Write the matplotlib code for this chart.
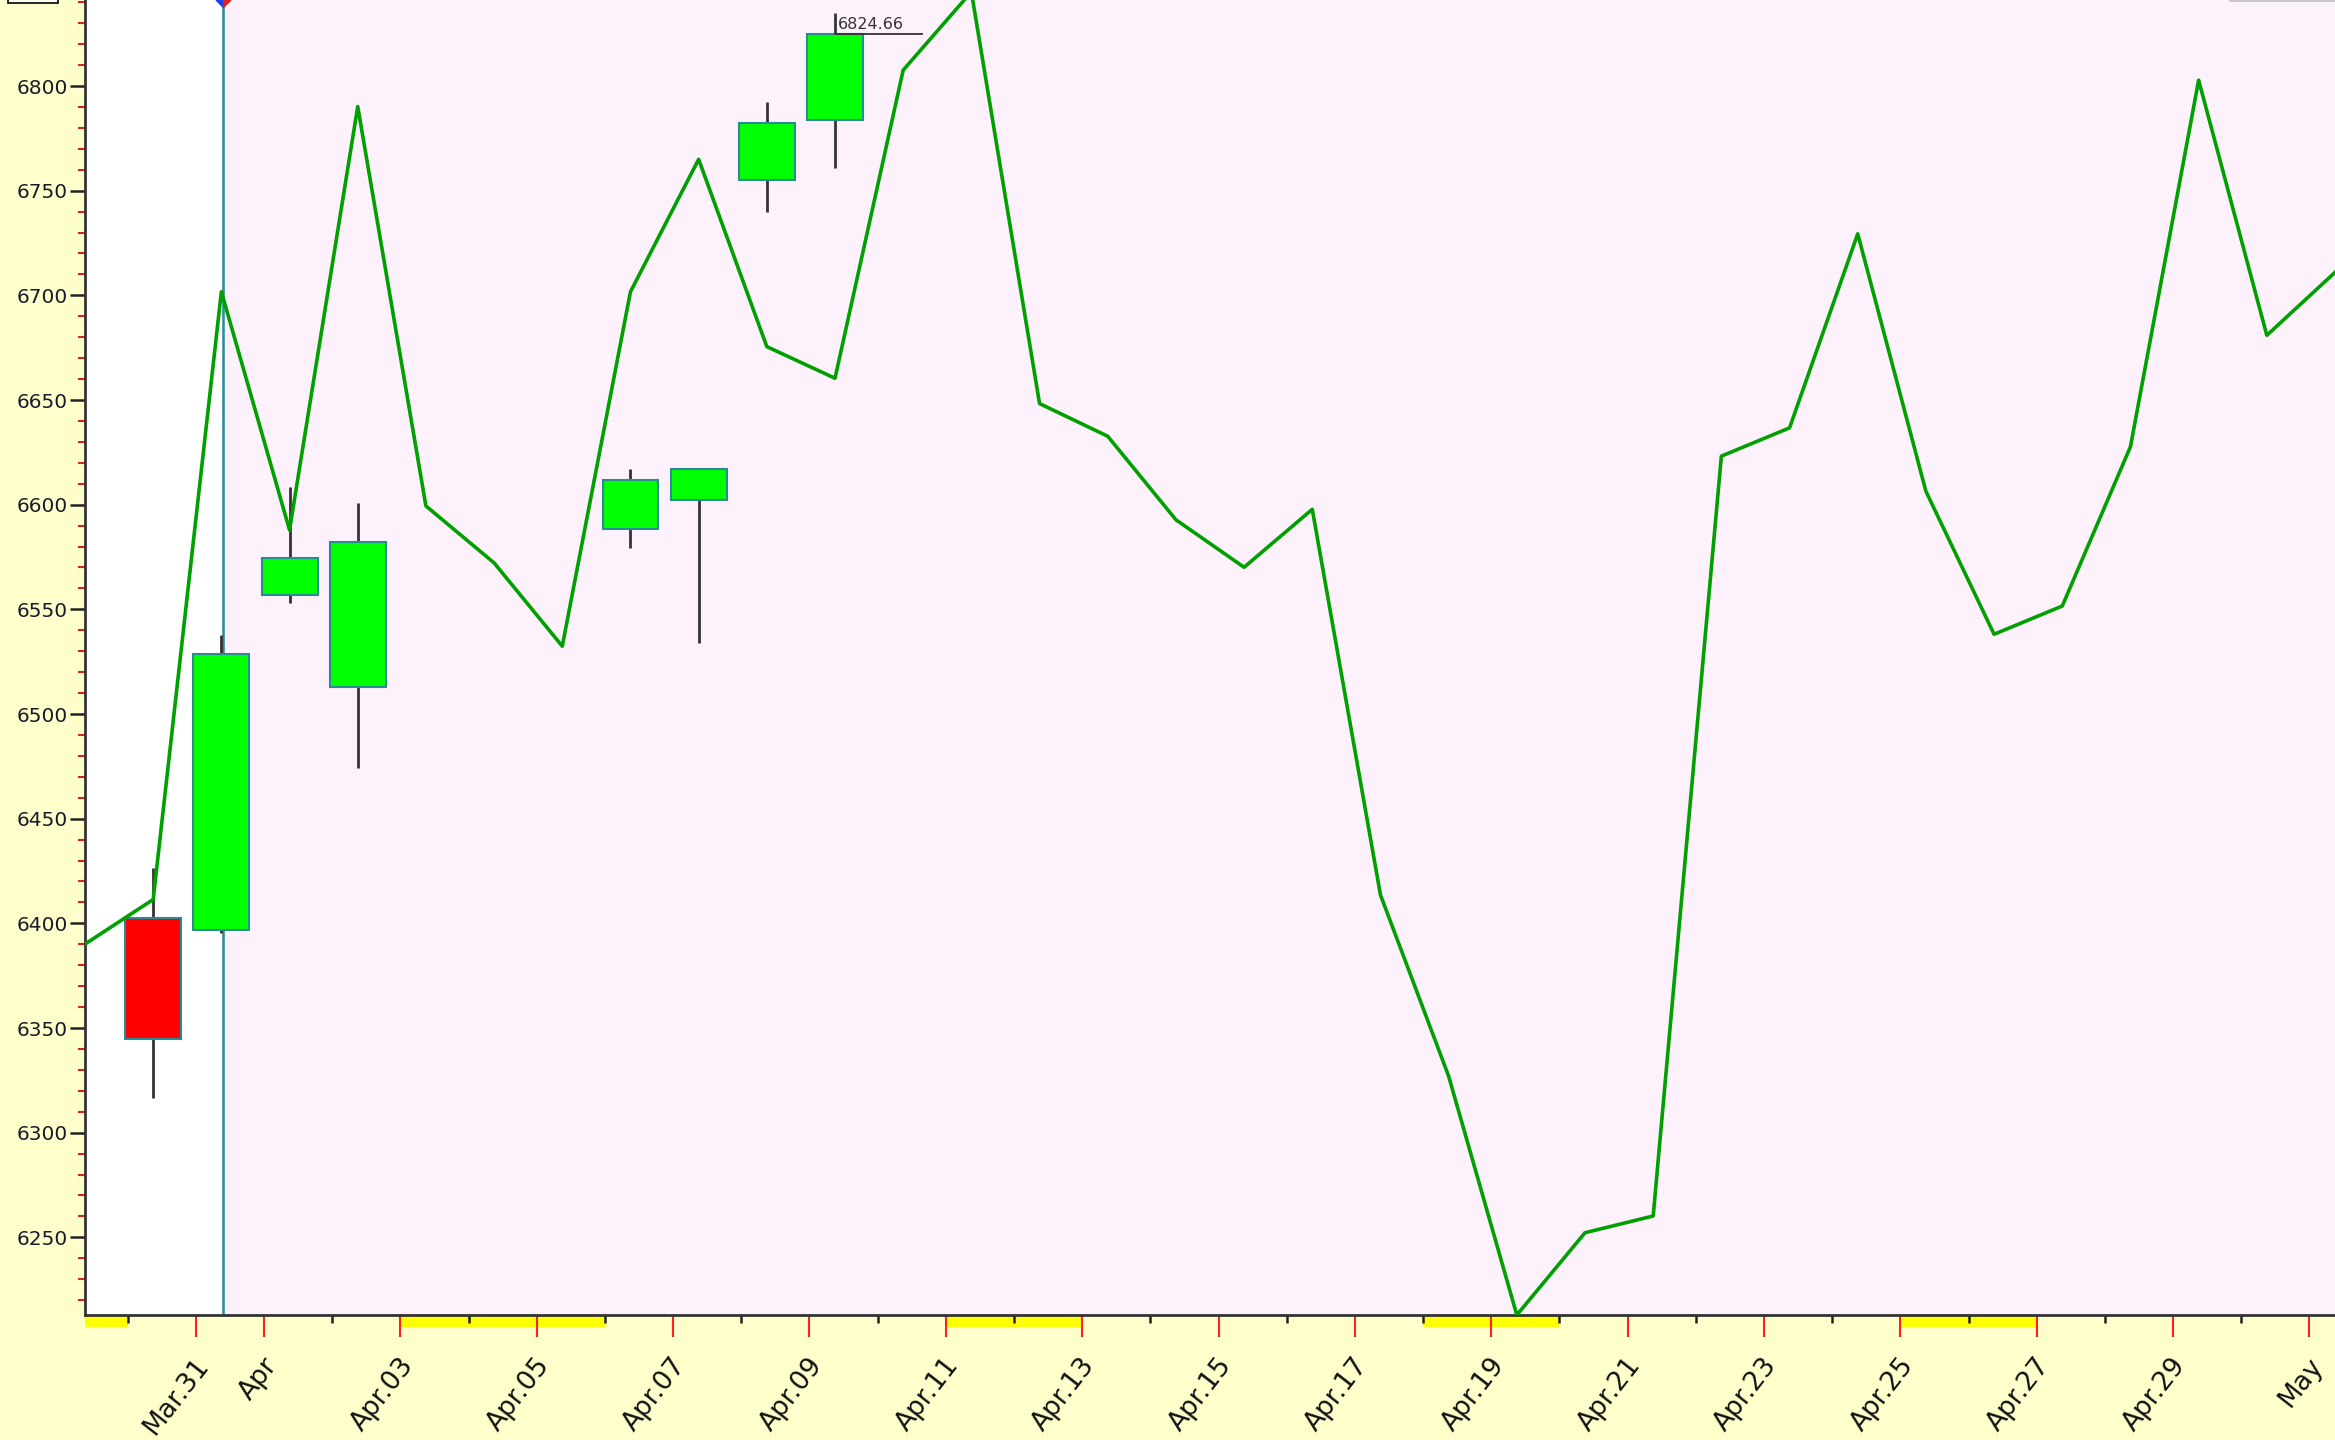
import numpy as np
import pandas as pd
import matplotlib
matplotlib.use("Agg")
import matplotlib.pyplot as plt
import matplotlib.dates as mdates
import matplotlib.transforms as mtransforms
from matplotlib.patches import Rectangle
from matplotlib.lines import Line2D

plt.rcParams['font.family'] = ['DejaVu Sans']

# Forecast line, one point per day at 09:00
line_start = "2026-03-29 09:00"
line_vals = [6390.1, 6411.4, 6701.7, 6587.9, 6790.2, 6599.4, 6572.2, 6532.4,
             6701.7, 6765.0, 6675.5, 6660.4, 6807.6, 6845.0, 6648.3, 6632.7,
             6592.8, 6570.1, 6597.8, 6413.6, 6327.0, 6212.9, 6252.2, 6260.2,
             6623.2, 6636.7, 6729.4, 6606.4, 6538.1, 6551.6, 6627.7, 6802.8,
             6680.9, 6711.0]

# Daily candles
candle_days = ["2026-03-30", "2026-03-31", "2026-04-01", "2026-04-02",
               "2026-04-06", "2026-04-07", "2026-04-08", "2026-04-09"]
candle_open = [6402.6, 6396.7, 6556.8, 6513.0, 6588.2, 6602.2, 6755.1, 6784.0]
candle_close = [6344.6, 6528.5, 6574.7, 6582.3, 6611.8, 6616.9, 6782.2, 6824.66]
candle_high = [6426.3, 6537.7, 6608.6, 6600.9, 6617.0, 6617.5, 6792.5, 6834.7]
candle_low = [6316.5, 6395.5, 6553.2, 6474.0, 6579.4, 6534.1, 6740.0, 6761.0]

# Non-trading days (yellow marks under the axis)
off_days = ["2026-03-29", "2026-04-03", "2026-04-04", "2026-04-05",
            "2026-04-11", "2026-04-12", "2026-04-18", "2026-04-19",
            "2026-04-25", "2026-04-26"]

# X tick labels (odd days) and unlabeled ticks
label_days = ["2026-03-31", "2026-04-01", "2026-04-03", "2026-04-05", "2026-04-07",
              "2026-04-09", "2026-04-11", "2026-04-13", "2026-04-15", "2026-04-17",
              "2026-04-19", "2026-04-21", "2026-04-23", "2026-04-25", "2026-04-27",
              "2026-04-29", "2026-05-01"]
label_text = ["Mar.31", "Apr", "Apr.03", "Apr.05", "Apr.07", "Apr.09", "Apr.11",
              "Apr.13", "Apr.15", "Apr.17", "Apr.19", "Apr.21", "Apr.23", "Apr.25",
              "Apr.27", "Apr.29", "May"]
plain_days = ["2026-03-30", "2026-04-02", "2026-04-04", "2026-04-06", "2026-04-08",
              "2026-04-10", "2026-04-12", "2026-04-14", "2026-04-16", "2026-04-18",
              "2026-04-20", "2026-04-22", "2026-04-24", "2026-04-26", "2026-04-28",
              "2026-04-30"]

now_time = "2026-03-31 09:45"
last_close_label = "6824.66"

W, H = 2335, 1440
fig = plt.figure(figsize=(W / 100, H / 100), dpi=100, facecolor="#FFFFCC")
ax = fig.add_axes([85 / W, 125 / H, 1 - 85 / W, 1 - 125 / H])
ax.set_facecolor("#FDF2FB")

line_x = mdates.date2num(pd.date_range(line_start, periods=len(line_vals), freq="D"))
x0, x1 = line_x[0], line_x[-1]
ax.set_xlim(x0, x1)
ax.set_ylim(6212.9, 6841.1)

# white area before "now"
now_x = mdates.date2num(pd.Timestamp(now_time))
ax.axvspan(x0, now_x, color="white", zorder=0, lw=0)
ax.axvline(now_x, color="#27899A", lw=1.8, zorder=1)
ax.plot([now_x], [6841.1], marker="D", ms=8, fillstyle="left", mfc="#1E40E0",
        mfcalt="#E02020", mec="none", clip_on=False, zorder=6)

# candles
cx = mdates.date2num(pd.to_datetime(candle_days) + pd.Timedelta(hours=9))
width = 0.82
for x, o, c, h, l in zip(cx, candle_open, candle_close, candle_high, candle_low):
    ax.plot([x, x], [l, h], color="#333333", lw=2, zorder=2, solid_capstyle="butt")
    face = "#00FF00" if c >= o else "#FF0000"
    ax.add_patch(Rectangle((x - width / 2, min(o, c)), width, abs(c - o),
                           facecolor=face, edgecolor="#2A8A96", lw=1.5, zorder=3))

# last close marker
ax.plot([cx[-1], cx[-1] + 1.28], [candle_close[-1]] * 2, color="#333333", lw=1.3, zorder=4)
ax.text(cx[-1] + 0.04, candle_close[-1] + 2.5, last_close_label, fontsize=11.5,
        color="#333333", ha="left", va="baseline", zorder=4)

# forecast line
ax.plot(line_x, line_vals, color="#00A000", lw=2.6, zorder=5)

# spines
for s in ["top", "right"]:
    ax.spines[s].set_visible(False)
for s in ["left", "bottom"]:
    ax.spines[s].set_color("#333333")
    ax.spines[s].set_linewidth(2)

# y ticks
ax.set_yticks(np.arange(6250, 6801, 50))
ax.set_yticks(np.arange(6220, 6841, 10), minor=True)
ax.tick_params(axis="y", which="major", length=11, width=1.8, color="#222222",
               labelsize=14.5, labelcolor="#1A1A2A", pad=1.5)
ax.tick_params(axis="y", which="minor", length=5, width=1.5, color="#E02020")

# x ticks
lab_x = mdates.date2num(pd.to_datetime(label_days))
plain_x = mdates.date2num(pd.to_datetime(plain_days))
ax.set_xticks(lab_x)
ax.set_xticks(plain_x, minor=True)
ax.set_xticklabels(label_text, rotation=52, ha="right", va="center",
                   rotation_mode="anchor", fontsize=19, color="#111111")
ax.tick_params(axis="x", which="major", length=16, width=1.5, color="#FF2020", pad=17)
ax.tick_params(axis="x", which="minor", length=6, width=1.8, color="#222222")
# nudge labels a bit to the right of their ticks
shift = mtransforms.ScaledTranslation(6 / 72, 0, fig.dpi_scale_trans)
for lbl in ax.get_xticklabels():
    lbl.set_transform(lbl.get_transform() + shift)

# yellow bars for non-trading days
trans = ax.get_xaxis_transform()
bar_h = 12 / 1315
for d in off_days:
    a = max(mdates.date2num(pd.Timestamp(d)), x0)
    b = mdates.date2num(pd.Timestamp(d) + pd.Timedelta(days=1))
    ax.add_patch(Rectangle((a, -bar_h), b - a, bar_h, transform=trans,
                           facecolor="#FFFF00", edgecolor="none", clip_on=False, zorder=0))

# small pieces of other panels at the top edge
fig.add_artist(Rectangle((8 / W, 1437 / H), 50 / W, 10 / H, transform=fig.transFigure,
                         facecolor="#FFFFF0", edgecolor="black", lw=1.2))
fig.add_artist(Line2D([2230 / W, 1], [1439 / H, 1439 / H], transform=fig.transFigure,
                      color="#C8C8C8", lw=1.5))

fig.savefig("out.png", dpi=100, facecolor=fig.get_facecolor())
